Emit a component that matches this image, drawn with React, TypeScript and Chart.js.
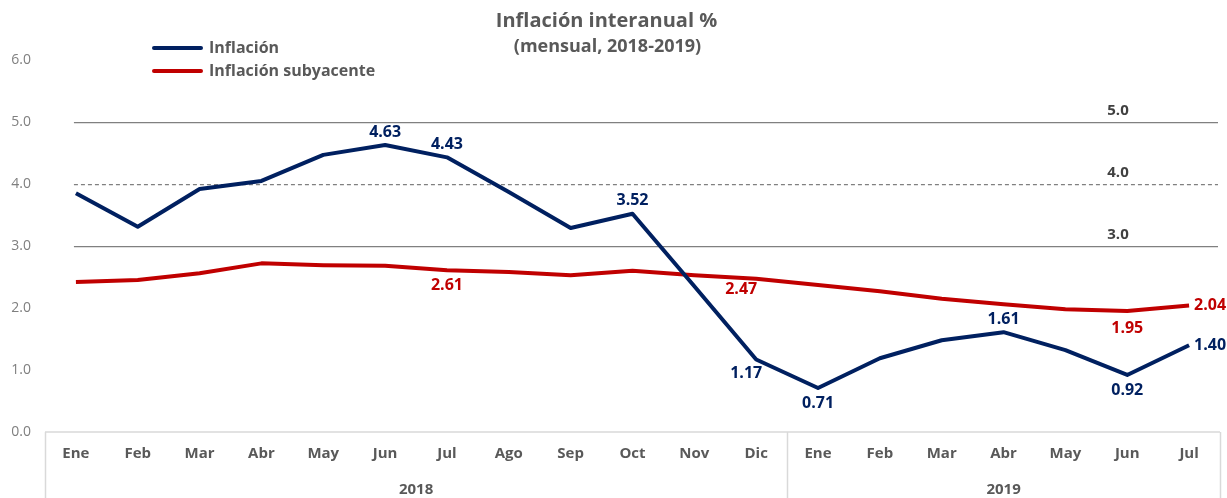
import React, { useEffect, useRef } from "react";
import { Chart, registerables } from "chart.js";

Chart.register(...registerables);

const months = ["Ene", "Feb", "Mar", "Abr", "May", "Jun", "Jul", "Ago", "Sep", "Oct", "Nov", "Dic", "Ene", "Feb", "Mar", "Abr", "May", "Jun", "Jul"];
const years = ["2018", "2019"];
const yearSpans = [12, 7];
const inflacion = [3.85, 3.31, 3.92, 4.05, 4.47, 4.63, 4.43, 3.87, 3.29, 3.52, 2.35, 1.17, 0.71, 1.19, 1.48, 1.61, 1.32, 0.92, 1.4];
const subyacente = [2.42, 2.45, 2.56, 2.72, 2.69, 2.68, 2.61, 2.58, 2.53, 2.6, 2.53, 2.47, 2.37, 2.27, 2.15, 2.06, 1.98, 1.95, 2.04];
const yMin = 0;
const yMax = 6;
const refLevels = [5, 4, 3];
const refDashed = [false, true, false];
const titleText = "Inflación interanual %";
const subtitleText = "(mensual, 2018-2019)";
const seriesNames = ["Inflación", "Inflación subyacente"];

const FONT = "'Open Sans', Lato, sans-serif";
const BLUE = "#002060";
const RED = "#C00000";
const GRAY = "#595959";

type Place = { pos: "above" | "below" | "right"; dx?: number; dy?: number };
const labelPlaces: Record<number, Record<number, Place>> = {
  0: {
    5: { pos: "above" },
    6: { pos: "above" },
    9: { pos: "above" },
    11: { pos: "below", dx: -10, dy: -1 },
    12: { pos: "below" },
    15: { pos: "above" },
    17: { pos: "below" },
    18: { pos: "right" },
  },
  1: {
    6: { pos: "below" },
    11: { pos: "below", dx: -15, dy: -4 },
    17: { pos: "below", dy: 2 },
    18: { pos: "right" },
  },
};

const decorPlugin = {
  id: "decor",
  beforeDatasetsDraw(chart: any) {
    const { ctx, chartArea, scales } = chart;
    const x0 = scales.x.getPixelForValue(0);
    ctx.save();
    refLevels.forEach((lv, i) => {
      const y = Math.round(scales.y.getPixelForValue(lv)) + 0.5;
      ctx.beginPath();
      ctx.strokeStyle = "#808080";
      ctx.lineWidth = 1.25;
      ctx.setLineDash(refDashed[i] ? [4, 3] : []);
      ctx.moveTo(x0 - 2, y);
      ctx.lineTo(chartArea.right - 2, y);
      ctx.stroke();
      ctx.setLineDash([]);
      ctx.fillStyle = "#404040";
      ctx.font = `bold 15px ${FONT}`;
      ctx.textAlign = "center";
      ctx.textBaseline = "middle";
      ctx.fillText(lv.toFixed(1), chartArea.right - 102, y - 12);
    });
    ctx.restore();
  },
  afterDraw(chart: any) {
    const { ctx, chartArea, scales, width } = chart;
    const xs = scales.x;
    const step = xs.getPixelForValue(1) - xs.getPixelForValue(0);
    ctx.save();
    ctx.strokeStyle = "#d9d9d9";
    ctx.lineWidth = 1.5;
    ctx.beginPath();
    ctx.moveTo(chartArea.left, chartArea.bottom);
    ctx.lineTo(chartArea.right, chartArea.bottom);
    const edges: number[] = [0];
    let acc = 0;
    yearSpans.forEach((s) => {
      acc += s;
      edges.push(acc);
    });
    edges.forEach((e) => {
      const x = Math.round(xs.getPixelForValue(e) - step / 2) + 0.5;
      ctx.moveTo(x, chartArea.bottom);
      ctx.lineTo(x, chart.height);
    });
    ctx.stroke();
    ctx.fillStyle = GRAY;
    ctx.font = `bold 15px ${FONT}`;
    ctx.textAlign = "center";
    ctx.textBaseline = "middle";
    years.forEach((yr, i) => {
      const a = xs.getPixelForValue(edges[i]) - step / 2;
      const b = xs.getPixelForValue(edges[i + 1]) - step / 2;
      ctx.fillText(yr, (a + b) / 2, chartArea.bottom + 58);
    });
    ctx.fillStyle = GRAY;
    ctx.font = `bold 20px ${FONT}`;
    ctx.fillText(titleText, width / 2 - 7, 21);
    ctx.font = `bold 18px ${FONT}`;
    ctx.fillText(subtitleText, width / 2 - 6, 47);
    const colors = [BLUE, RED];
    seriesNames.forEach((n, i) => {
      const y = 48 + i * 23;
      ctx.strokeStyle = colors[i];
      ctx.lineWidth = 4;
      ctx.lineCap = "round";
      ctx.beginPath();
      ctx.moveTo(154, y);
      ctx.lineTo(201, y);
      ctx.stroke();
      ctx.fillStyle = GRAY;
      ctx.font = `bold 16px ${FONT}`;
      ctx.textAlign = "left";
      ctx.fillText(n, 209, y);
    });
    chart.data.datasets.forEach((ds: any, di: number) => {
      const places = labelPlaces[di] || {};
      const meta = chart.getDatasetMeta(di);
      Object.keys(places).forEach((k) => {
        const idx = Number(k);
        const p = places[idx];
        const pt = meta.data[idx];
        if (!pt) return;
        const v = ds.data[idx] as number;
        ctx.fillStyle = ds.borderColor;
        ctx.font = `bold 16px ${FONT}`;
        ctx.textBaseline = "middle";
        let x = pt.x + (p.dx || 0);
        let y = pt.y + (p.dy || 0);
        if (p.pos === "above") {
          ctx.textAlign = "center";
          y -= 13;
        } else if (p.pos === "below") {
          ctx.textAlign = "center";
          y += 15;
        } else {
          ctx.textAlign = "left";
          x += 5;
        }
        ctx.fillText(v.toFixed(2), x, y);
      });
    });
    ctx.restore();
  },
};

export default function App() {
  const ref = useRef<HTMLCanvasElement | null>(null);
  useEffect(() => {
    if (!ref.current) return;
    const chart = new Chart(ref.current, {
      type: "line",
      data: {
        labels: months,
        datasets: [
          {
            label: seriesNames[0],
            data: inflacion,
            borderColor: BLUE,
            backgroundColor: BLUE,
            borderWidth: 4,
            pointRadius: 0,
            tension: 0,
            borderJoinStyle: "round",
          },
          {
            label: seriesNames[1],
            data: subyacente,
            borderColor: RED,
            backgroundColor: RED,
            borderWidth: 4,
            pointRadius: 0,
            tension: 0,
            borderJoinStyle: "round",
          },
        ],
      },
      options: {
        animation: false,
        responsive: true,
        maintainAspectRatio: false,
        layout: { padding: { top: 60, right: 7, left: 0, bottom: 0 } },
        plugins: { legend: { display: false }, title: { display: false }, tooltip: { enabled: false } },
        scales: {
          x: {
            type: "category",
            offset: true,
            grid: { display: false, drawTicks: false },
            border: { display: false },
            ticks: {
              color: GRAY,
              font: { family: FONT, size: 15, weight: "bold" },
              padding: 13,
              autoSkip: false,
              maxRotation: 0,
            },
            afterFit: (s: any) => {
              s.height = 66;
            },
          },
          y: {
            min: yMin,
            max: yMax,
            ticks: {
              stepSize: 1,
              callback: (v: any) => Number(v).toFixed(1),
              color: "#7f7f7f",
              font: { family: FONT, size: 14 },
              padding: 14,
            },
            grid: { display: false, drawTicks: false },
            border: { display: false },
            afterFit: (s: any) => {
              s.width = 45;
            },
          },
        },
      },
      plugins: [decorPlugin],
    });
    return () => chart.destroy();
  }, []);
  return (
    <div style={{ position: "fixed", left: 0, top: 0, width: 1227, height: 498, background: "#fff" }}>
      <canvas ref={ref} />
    </div>
  );
}
